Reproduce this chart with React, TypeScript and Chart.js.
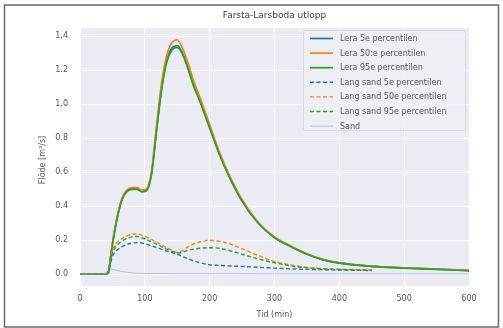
import React, { useEffect, useRef } from "react";
import { Chart, registerables } from "chart.js";

Chart.register(...registerables);

const tid = [0, 40, 44, 48, 52, 58, 65, 72, 80, 88, 95, 102, 110, 118, 126, 134, 142, 150, 158, 166, 175, 185, 200, 215, 230, 250, 275, 300, 325, 350, 375, 400, 450, 500, 550, 600];

const lera5 = [0, 0, 0.01, 0.125, 0.225, 0.345, 0.445, 0.49, 0.503, 0.503, 0.488, 0.493, 0.585, 0.85, 1.1, 1.26, 1.332, 1.345, 1.302, 1.222, 1.115, 1.025, 0.865, 0.708, 0.578, 0.433, 0.302, 0.217, 0.164, 0.119, 0.086, 0.067, 0.047, 0.037, 0.03, 0.022];
const lera50 = [0, 0, 0.01, 0.13, 0.23, 0.35, 0.45, 0.495, 0.51, 0.51, 0.495, 0.5, 0.6, 0.87, 1.13, 1.29, 1.365, 1.38, 1.33, 1.25, 1.14, 1.04, 0.88, 0.72, 0.585, 0.44, 0.305, 0.22, 0.167, 0.121, 0.087, 0.068, 0.048, 0.038, 0.031, 0.023];
const lera95 = [0, 0, 0.01, 0.12, 0.22, 0.34, 0.44, 0.485, 0.5, 0.5, 0.485, 0.49, 0.58, 0.84, 1.09, 1.25, 1.32, 1.335, 1.295, 1.215, 1.11, 1.015, 0.86, 0.705, 0.575, 0.43, 0.3, 0.215, 0.163, 0.118, 0.085, 0.066, 0.046, 0.036, 0.029, 0.021];
const langSand5 = [0, 0, 0.02, 0.08, 0.12, 0.145, 0.163, 0.175, 0.183, 0.186, 0.184, 0.178, 0.168, 0.158, 0.147, 0.137, 0.127, 0.118, 0.105, 0.092, 0.08, 0.068, 0.056, 0.052, 0.049, 0.046, 0.041, 0.036, 0.032, 0.029, 0.027, 0.025, 0.022, null, null, null];
const langSand50 = [0, 0, 0.03, 0.12, 0.16, 0.19, 0.21, 0.225, 0.235, 0.238, 0.23, 0.22, 0.205, 0.19, 0.172, 0.156, 0.141, 0.128, 0.14, 0.16, 0.178, 0.19, 0.2, 0.195, 0.18, 0.15, 0.11, 0.075, 0.055, 0.04, 0.033, 0.03, 0.025, null, null, null];
const langSand95 = [0, 0, 0.03, 0.1, 0.145, 0.175, 0.195, 0.21, 0.22, 0.222, 0.215, 0.205, 0.192, 0.178, 0.162, 0.148, 0.135, 0.125, 0.13, 0.14, 0.148, 0.153, 0.156, 0.153, 0.14, 0.118, 0.09, 0.068, 0.05, 0.038, 0.031, 0.028, 0.024, null, null, null];
const sand = [0, 0, 0.02, 0.03, 0.028, 0.022, 0.016, 0.012, 0.008, 0.006, 0.005, 0.005, 0.004, 0.004, 0.004, 0.004, 0.003, 0.003, 0.003, 0.003, 0.003, 0.003, 0.003, 0.003, 0.003, 0.003, 0.002, 0.002, 0.002, 0.002, 0.002, 0.002, 0.002, 0.002, 0.002, 0.002];

const seriesLabels = [
  "Lera 5e percentilen",
  "Lera 50:e percentilen",
  "Lera 95e percentilen",
  "Lang sand 5e percentilen",
  "Lang sand 50e percentilen",
  "Lang sand 95e percentilen",
  "Sand",
];
const yTicks = [0, 0.2, 0.4, 0.6, 0.8, 1.0, 1.2, 1.4];
const xTicks = [0, 100, 200, 300, 400, 500, 600];

const BLUE = "#1f77b4";
const ORANGE = "#ff7f0e";
const GREEN = "#2ca02c";
const SAND = "rgba(110,160,215,0.55)";
const FONT = "'DejaVu Sans', sans-serif";
const TXT = "#555";

export default function App() {
  const ref = useRef<HTMLCanvasElement>(null);
  useEffect(() => {
    document.body.style.margin = "0";
    const toPts = (ys: (number | null)[]) => tid.map((t, i) => ({ x: t, y: ys[i] }));
    const series = [lera5, lera50, lera95, langSand5, langSand50, langSand95, sand];
    const colors = [BLUE, ORANGE, GREEN, BLUE, ORANGE, GREEN, SAND];
    const dashes = [[], [], [], [4, 2.5], [4, 2.5], [4, 2.5], []];
    const widths = [1.7, 1.7, 1.7, 1.4, 1.4, 1.4, 1];
    const datasets = series.map((s, i) => ({
      label: seriesLabels[i],
      data: toPts(s),
      borderColor: colors[i],
      backgroundColor: colors[i],
      borderWidth: widths[i],
      borderDash: dashes[i],
      pointRadius: 0,
      fill: false,
      spanGaps: false,
      cubicInterpolationMode: "monotone" as const,
      order: 10 - i,
    }));

    const deco = {
      id: "deco",
      beforeDraw(chart: any) {
        const { ctx, chartArea: a } = chart;
        ctx.save();
        ctx.fillStyle = "#ffffff";
        ctx.fillRect(0, 0, chart.width, chart.height);
        ctx.fillStyle = "#ebebf3";
        ctx.fillRect(a.left, a.top, a.right - a.left, a.bottom - a.top);
        ctx.restore();
      },
      afterDraw(chart: any) {
        const { ctx, chartArea: a } = chart;
        ctx.save();
        ctx.strokeStyle = "#6a6a6a";
        ctx.lineWidth = 1.5;
        ctx.strokeRect(4.5, 5, 494, 322);
        ctx.fillStyle = "#3a3a3a";
        ctx.font = `9px ${FONT}`;
        ctx.textAlign = "center";
        ctx.textBaseline = "middle";
        const cx = (a.left + a.right) / 2;
        ctx.fillText("Farsta-Larsboda utlopp", cx, 16);
        ctx.font = `8px ${FONT}`;
        ctx.fillStyle = TXT;
        ctx.fillText("Tid (min)", cx, 315);
        ctx.save();
        ctx.translate(43, 160);
        ctx.rotate(-Math.PI / 2);
        ctx.fillText("Flöde [m³/s]", 0, 0);
        ctx.restore();
        const lx = 303, ly = 30, lw = 162, lh = 100;
        ctx.fillStyle = "rgba(238,238,245,0.85)";
        ctx.strokeStyle = "#d8d8e2";
        ctx.lineWidth = 1;
        ctx.beginPath();
        if ((ctx as any).roundRect) (ctx as any).roundRect(lx + 0.5, ly + 0.5, lw, lh, 2);
        else ctx.rect(lx + 0.5, ly + 0.5, lw, lh);
        ctx.fill();
        ctx.stroke();
        ctx.textAlign = "left";
        ctx.font = `8px ${FONT}`;
        chart.data.datasets.forEach((ds: any, i: number) => {
          const y = 38.5 + i * 14.6;
          ctx.strokeStyle = ds.borderColor;
          ctx.lineWidth = ds.borderWidth;
          ctx.setLineDash(ds.borderDash || []);
          ctx.beginPath();
          ctx.moveTo(310, y);
          ctx.lineTo(333, y);
          ctx.stroke();
          ctx.setLineDash([]);
          ctx.fillStyle = TXT;
          ctx.fillText(ds.label, 340, y + 0.5);
        });
        ctx.restore();
      },
    };

    const chart = new Chart(ref.current!, {
      type: "line",
      data: { datasets },
      plugins: [deco],
      options: {
        animation: false,
        responsive: false,
        layout: { padding: { left: 0, top: 28, right: 34, bottom: 0 } },
        plugins: { legend: { display: false }, title: { display: false }, tooltip: { enabled: false } },
        scales: {
          x: {
            type: "linear",
            min: 0,
            max: 600,
            afterBuildTicks: (axis: any) => {
              axis.ticks = xTicks.map((v) => ({ value: v }));
            },
            afterFit: (axis: any) => {
              axis.height = 42;
            },
            grid: { color: "#ffffff", lineWidth: 1, drawTicks: false },
            border: { display: false },
            ticks: { color: TXT, font: { family: FONT, size: 8 }, padding: 8, maxRotation: 0 },
          },
          y: {
            type: "linear",
            min: -0.069,
            max: 1.449,
            afterBuildTicks: (axis: any) => {
              axis.ticks = yTicks.map((v) => ({ value: v }));
            },
            afterFit: (axis: any) => {
              axis.width = 80;
            },
            grid: { color: "#ffffff", lineWidth: 1, drawTicks: false },
            border: { display: false },
            ticks: {
              color: TXT,
              font: { family: FONT, size: 8 },
              padding: 12,
              callback: (v: any) => Number(v).toFixed(1),
            },
          },
        },
      },
    });
    return () => chart.destroy();
  }, []);
  return <canvas ref={ref} width={503} height={328} style={{ display: "block" }} />;
}
